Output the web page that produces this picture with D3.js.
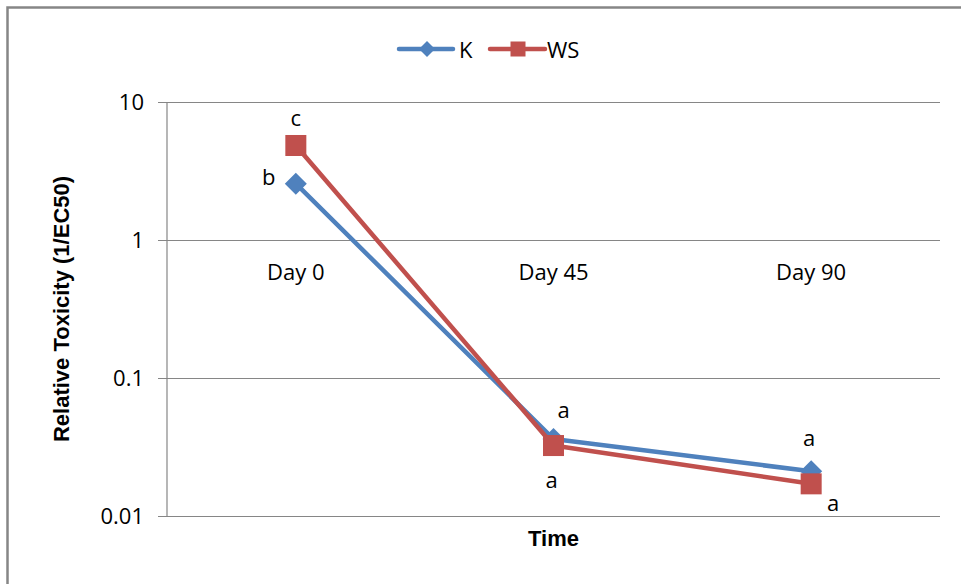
<!DOCTYPE html>
<html>
<head>
<meta charset="utf-8">
<script src="https://cdn.jsdelivr.net/npm/d3@7"></script>
<style>
  body { margin: 0; background: #fff; }
  svg { display: block; }
</style>
</head>
<body>
<svg id="chart"></svg>
<script>
// chart values
const categories = ["Day 0", "Day 45", "Day 90"];
const seriesNames = ["K", "WS"];
const kValues = [2.56, 0.0361, 0.0211];
const wsValues = [4.84, 0.0324, 0.0171];
const kLetters = ["b", "a", "a"];
const wsLetters = ["c", "a", "a"];
const yTicks = [0.01, 0.1, 1, 10];
const yTickLabels = ["0.01", "0.1", "1", "10"];

const width = 961, height = 584;
const colors = {K: "#4F81BD", WS: "#C0504D"};
const gridColor = "#868686";
const tickFont = "'Open Sans', sans-serif";

const svg = d3.select("#chart")
  .attr("width", width)
  .attr("height", height);

// outer chart border (only top and left are inside the window)
svg.append("rect")
  .attr("x", 7.5).attr("y", 7.5)
  .attr("width", width + 20).attr("height", height + 20)
  .attr("fill", "none")
  .attr("stroke", gridColor)
  .attr("stroke-width", 2.5);

const plot = {left: 167, right: 940, top: 102, bottom: 516};

const x = d3.scaleBand()
  .domain(categories)
  .range([plot.left, plot.right])
  .padding(0);

const y = d3.scaleLog()
  .domain([0.01, 10])
  .range([plot.bottom, plot.top]);

const cx = d => x(d) + x.bandwidth() / 2;

// gridlines + y axis
const yAxis = d3.axisLeft(y)
  .tickValues(yTicks)
  .tickFormat((d, i) => yTickLabels[i])
  .tickSize(-(plot.right - plot.left))
  .tickPadding(14);

const gy = svg.append("g")
  .attr("transform", `translate(${plot.left},0)`)
  .call(yAxis);
gy.select(".domain").remove();
gy.selectAll(".tick line")
  .attr("stroke", gridColor)
  .attr("stroke-width", 1.2)
  .attr("x1", -9);
gy.selectAll(".tick text")
  .attr("x", -23)
  .style("font-family", tickFont)
  .style("font-size", "22px")
  .attr("fill", "#000");

svg.append("line")
  .attr("x1", plot.left).attr("x2", plot.left)
  .attr("y1", plot.top).attr("y2", plot.bottom)
  .attr("stroke", gridColor)
  .attr("stroke-width", 1.2);

// category axis crosses at 1
const gx = svg.append("g")
  .attr("transform", `translate(0,${y(1)})`)
  .call(d3.axisBottom(x).tickSize(0).tickPadding(24));
gx.select(".domain").remove();
gx.selectAll(".tick text")
  .style("font-family", tickFont)
  .style("font-size", "22px")
  .attr("fill", "#000");

// axis titles
svg.append("text")
  .attr("transform", `translate(61,${(plot.top + plot.bottom) / 2}) rotate(-90)`)
  .attr("text-anchor", "middle")
  .attr("dominant-baseline", "central")
  .style("font-family", "'Liberation Sans', Arial, sans-serif")
  .style("font-weight", "bold")
  .style("font-size", "22px")
  .text("Relative Toxicity (1/EC50)");

svg.append("text")
  .attr("x", (plot.left + plot.right) / 2)
  .attr("y", 538)
  .attr("text-anchor", "middle")
  .attr("dominant-baseline", "central")
  .style("font-family", "'Liberation Sans', Arial, sans-serif")
  .style("font-weight", "bold")
  .style("font-size", "22px")
  .text("Time");

// series
const series = [
  {name: "K", values: kValues, letters: kLetters,
   labelOffsets: [[-27, -8], [10, -30], [-2, -34]]},
  {name: "WS", values: wsValues, letters: wsLetters,
   labelOffsets: [[0, -28], [-2, 33], [22, 18]]}
];

const line = d3.line()
  .x((d, i) => cx(categories[i]))
  .y(d => y(d));

const diamond = s => `M0,${-s}L${s},0L0,${s}L${-s},0Z`;

series.forEach(s => {
  svg.append("path")
    .datum(s.values)
    .attr("d", line)
    .attr("fill", "none")
    .attr("stroke", colors[s.name])
    .attr("stroke-width", 4.5)
    .attr("stroke-linejoin", "round");

  const pts = svg.selectAll(".pt-" + s.name)
    .data(s.values)
    .enter().append("g")
    .attr("class", "pt-" + s.name)
    .attr("transform", (d, i) => `translate(${cx(categories[i])},${y(d)})`);

  if (s.name === "K") {
    pts.append("path")
      .attr("d", diamond(11))
      .attr("fill", colors.K);
  } else {
    pts.append("rect")
      .attr("x", -10.5).attr("y", -10.5)
      .attr("width", 21).attr("height", 21)
      .attr("fill", colors.WS);
  }
});

// significance letters drawn last
series.forEach(s => {
  svg.selectAll(".lbl-" + s.name)
    .data(s.values)
    .enter().append("text")
    .attr("class", "lbl-" + s.name)
    .attr("x", (d, i) => cx(categories[i]) + s.labelOffsets[i][0])
    .attr("y", (d, i) => y(d) + s.labelOffsets[i][1])
    .attr("text-anchor", "middle")
    .attr("dominant-baseline", "central")
    .style("font-family", tickFont)
    .style("font-size", "22px")
    .text((d, i) => s.letters[i]);
});

// legend
const legend = svg.append("g").attr("transform", "translate(0,49)");
const legendItems = [
  {name: "K", x1: 399, x2: 453, mx: 427, tx: 459},
  {name: "WS", x1: 490, x2: 545, mx: 518, tx: 547}
];
legendItems.forEach(it => {
  legend.append("line")
    .attr("x1", it.x1).attr("x2", it.x2)
    .attr("stroke", colors[it.name])
    .attr("stroke-width", 4.5)
    .attr("stroke-linecap", "round");
  if (it.name === "K") {
    legend.append("path")
      .attr("transform", `translate(${it.mx},0)`)
      .attr("d", diamond(8))
      .attr("fill", colors.K);
  } else {
    legend.append("rect")
      .attr("x", it.mx - 7.5).attr("y", -7.5)
      .attr("width", 15).attr("height", 15)
      .attr("fill", colors.WS);
  }
  legend.append("text")
    .attr("x", it.tx)
    .attr("dominant-baseline", "central")
    .style("font-family", tickFont)
    .style("font-size", "22px")
    .text(it.name);
});
</script>
</body>
</html>
